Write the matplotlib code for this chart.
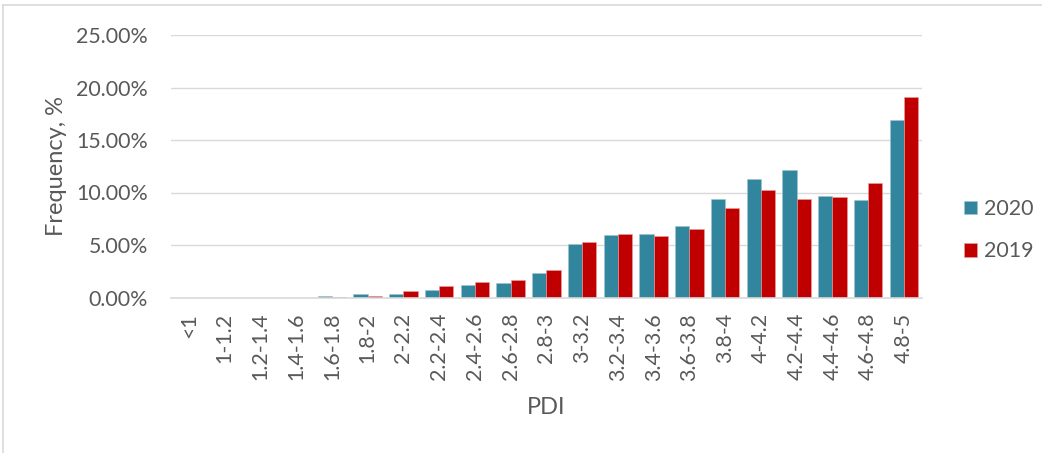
import numpy as np
import matplotlib
matplotlib.use("Agg")
import matplotlib.pyplot as plt
from matplotlib.ticker import PercentFormatter, MultipleLocator
from matplotlib.lines import Line2D

plt.rcParams['font.family'] = ['Lato', 'DejaVu Sans']

# PDI bins and frequency (%) per year
categories = ["<1", "1-1.2", "1.2-1.4", "1.4-1.6", "1.6-1.8", "1.8-2", "2-2.2",
              "2.2-2.4", "2.4-2.6", "2.6-2.8", "2.8-3", "3-3.2", "3.2-3.4",
              "3.4-3.6", "3.6-3.8", "3.8-4", "4-4.2", "4.2-4.4", "4.4-4.6",
              "4.6-4.8", "4.8-5"]
freq_2020 = [0.0, 0.0, 0.0, 0.0, 0.10, 0.29, 0.38, 0.70, 1.15, 1.40, 2.30,
             5.06, 5.98, 6.07, 6.84, 9.35, 11.26, 12.18, 9.70, 9.32, 16.92]
freq_2019 = [0.0, 0.0, 0.0, 0.0, 0.06, 0.16, 0.60, 1.11, 1.50, 1.62, 2.66,
             5.28, 6.07, 5.82, 6.49, 8.52, 10.27, 9.35, 9.57, 10.88, 19.05]
series_names = ["2020", "2019"]

TEAL = "#31859C"
RED = "#C00000"
GRID = "#D9D9D9"
TEXT = "#595959"

W, H = 1042, 453
fig = plt.figure(figsize=(W / 100, H / 100), dpi=100)
fig.patch.set_facecolor("white")

ax = fig.add_axes([171 / W, 1 - 297.5 / H, 750.7 / W, 262.5 / H])

x = np.arange(len(categories))
bw = 0.4
b1 = ax.bar(x - bw / 2, freq_2020, width=bw, color=TEAL, label=series_names[0],
            edgecolor="#9fc6d1", linewidth=0.4, zorder=3)
b2 = ax.bar(x + bw / 2, freq_2019, width=bw, color=RED, label=series_names[1],
            edgecolor="#e9a0a0", linewidth=0.4, zorder=3)

ax.set_xlim(-0.5, len(categories) - 0.5)
ax.set_ylim(0, 25)
ax.yaxis.set_major_locator(MultipleLocator(5))
ax.yaxis.set_major_formatter(PercentFormatter(xmax=100, decimals=2))
ax.grid(axis="y", color=GRID, linewidth=1.0, zorder=0)
ax.set_axisbelow(True)

for s in ["top", "right", "left"]:
    ax.spines[s].set_visible(False)
ax.spines["bottom"].set_color(GRID)
ax.spines["bottom"].set_linewidth(1.2)
ax.spines["bottom"].set_zorder(4)

ax.set_xticks(x)
ax.set_xticklabels(categories, rotation=90, fontsize=15.4, color=TEXT)
ax.tick_params(axis="x", length=0, pad=11)
ax.tick_params(axis="y", length=0, pad=16.5, labelsize=15.4, labelcolor=TEXT)

ax.set_xlabel("PDI", fontsize=17, color=TEXT)
ax.xaxis.set_label_coords(0.5, -0.38)
ax.set_ylabel("Frequency, %", fontsize=17, color=TEXT)
ax.yaxis.set_label_coords(-0.139, 0.5)

leg = fig.legend(handles=[b1, b2], loc="upper left",
                 bbox_to_anchor=(964 / W, 1 - 199 / H),
                 frameon=False, fontsize=15.4, labelcolor=TEXT,
                 handlelength=0.62, handleheight=0.62, handletextpad=0.3,
                 labelspacing=1.05, borderpad=0, borderaxespad=0)

# outer chart frame
fig.add_artist(Line2D([3 / W, 1.0], [1 - 5 / H, 1 - 5 / H], color=GRID, linewidth=1.2,
                      transform=fig.transFigure))
fig.add_artist(Line2D([3 / W, 3 / W], [0, 1 - 5 / H], color=GRID, linewidth=1.2,
                      transform=fig.transFigure))

fig.savefig("out.png", dpi=100)
